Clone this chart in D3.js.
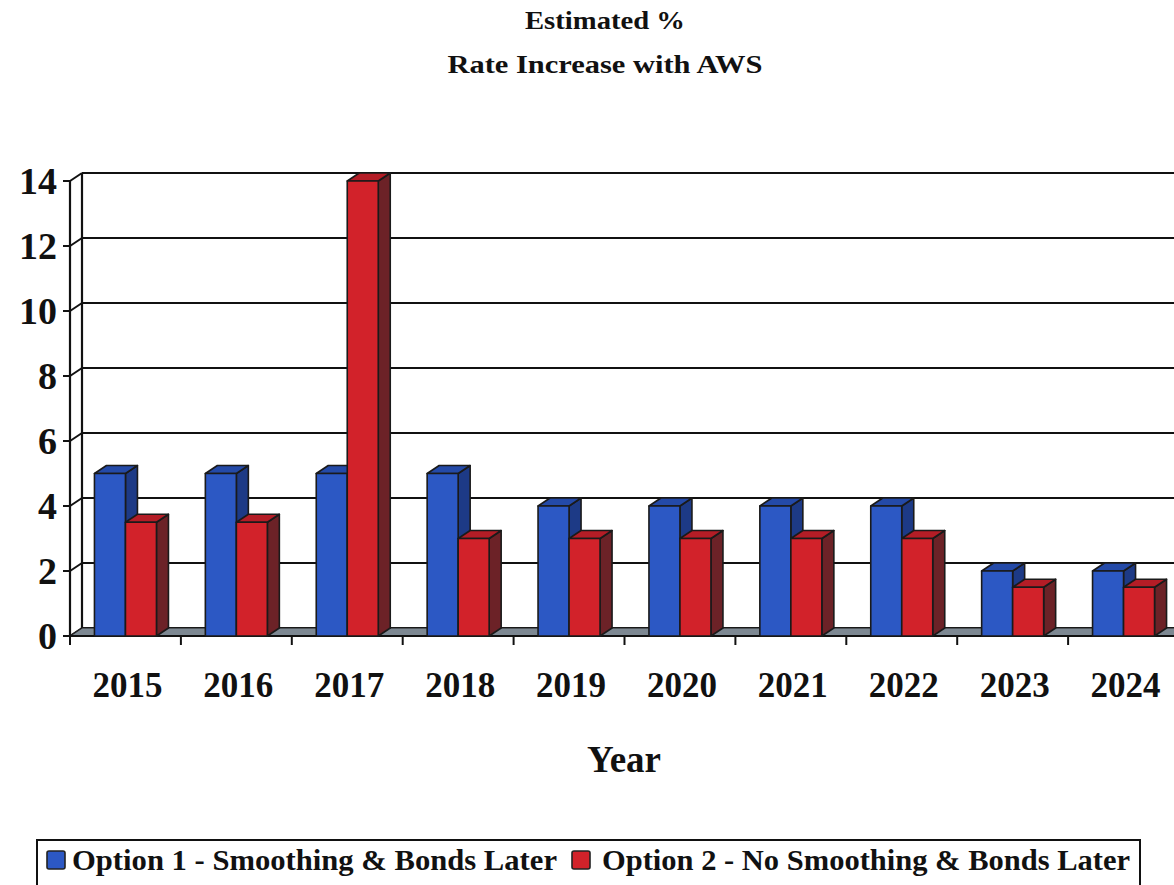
<!DOCTYPE html>
<html>
<head>
<meta charset="utf-8">
<script src="https://cdn.jsdelivr.net/npm/d3@7"></script>
<style>
  html, body { margin: 0; padding: 0; background: #fff; }
  svg { display: block; }
  text { font-family: "Liberation Serif", "DejaVu Serif", serif; font-weight: bold; fill: #111; }
</style>
</head>
<body>
<svg id="chart" width="1174" height="885"></svg>
<script>
// Chart data
const years = ["2015", "2016", "2017", "2018", "2019", "2020", "2021", "2022", "2023", "2024"];
const option1 = [5, 5, 5, 5, 4, 4, 4, 4, 2, 2];
const option2 = [3.5, 3.5, 14, 3, 3, 3, 3, 3, 1.5, 1.5];
const seriesNames = ["Option 1 - Smoothing & Bonds Later", "Option 2 - No Smoothing & Bonds Later"];
const yTicks = [0, 2, 4, 6, 8, 10, 12, 14];
const titleLines = ["Estimated %", "Rate Increase with AWS"];
const xTitle = "Year";

const W = 1174, H = 885;
const svg = d3.select("#chart");

// 3D depth offset for walls and bars
const DX = 12, DY = -8;

const x = d3.scaleBand().domain(years).range([70, 70 + 110.9 * years.length]).padding(0);
const y = d3.scaleLinear().domain([0, 14]).range([636, 181]);
const groupW = 62;
const inner = d3.scaleBand().domain([0, 1]).range([0, groupW]).padding(0);

const colors = [
  { front: "#2c58c4", top: "#244aa8", side: "#1d3a86" },
  { front: "#d2222a", top: "#b41d26", side: "#6c2227" }
];

const x0 = x.range()[0];
const plotRight = W + 20;

// Back wall gridlines
const g = svg.append("g");
g.selectAll("line.grid").data(yTicks).join("line")
  .attr("class", "grid")
  .attr("x1", x0 + DX).attr("x2", plotRight)
  .attr("y1", d => y(d) + DY).attr("y2", d => y(d) + DY)
  .attr("stroke", "#111").attr("stroke-width", 2.2);

// Left side wall: front and back verticals plus connectors at each tick
g.append("line").attr("x1", x0).attr("x2", x0).attr("y1", y(14)).attr("y2", y(0))
  .attr("stroke", "#111").attr("stroke-width", 2.2);
g.append("line").attr("x1", x0 + DX).attr("x2", x0 + DX).attr("y1", y(14) + DY).attr("y2", y(0) + DY)
  .attr("stroke", "#111").attr("stroke-width", 2.2);
g.selectAll("line.conn").data(yTicks).join("line")
  .attr("class", "conn")
  .attr("x1", x0).attr("x2", x0 + DX)
  .attr("y1", d => y(d)).attr("y2", d => y(d) + DY)
  .attr("stroke", "#111").attr("stroke-width", 2);

// Y ticks and labels
g.selectAll("line.ytick").data(yTicks).join("line")
  .attr("class", "ytick")
  .attr("x1", x0 - 7).attr("x2", x0)
  .attr("y1", d => y(d)).attr("y2", d => y(d))
  .attr("stroke", "#111").attr("stroke-width", 2);
g.selectAll("text.ylab").data(yTicks).join("text")
  .attr("class", "ylab")
  .attr("x", 57).attr("y", d => y(d) + 13)
  .attr("text-anchor", "end")
  .attr("font-size", 38)
  .text(d => d);

// Floor
const floorPts = [[x0, y(0)], [plotRight, y(0)], [plotRight + DX, y(0) + DY], [x0 + DX, y(0) + DY]];
g.append("polygon")
  .attr("points", floorPts.map(p => p.join(",")).join(" "))
  .attr("fill", "#7d8892").attr("stroke", "#222").attr("stroke-width", 1.2);
g.append("line").attr("x1", x0).attr("x2", plotRight).attr("y1", y(0)).attr("y2", y(0))
  .attr("stroke", "#111").attr("stroke-width", 2.2);

// X ticks at category boundaries
g.selectAll("line.xtick").data(years.slice(1)).join("line")
  .attr("class", "xtick")
  .attr("x1", d => x(d)).attr("x2", d => x(d))
  .attr("y1", y(0)).attr("y2", y(0) + 9)
  .attr("stroke", "#111").attr("stroke-width", 2);
g.append("line").attr("x1", x0).attr("x2", x0).attr("y1", y(0)).attr("y2", y(0) + 9)
  .attr("stroke", "#111").attr("stroke-width", 2);

// Bars (3D boxes), drawn left to right
const bars = [];
years.forEach((yr, i) => {
  [option1[i], option2[i]].forEach((v, s) => {
    const left = x(yr) + (x.bandwidth() - groupW) / 2 + inner(s);
    bars.push({ left, w: inner.bandwidth(), v, s });
  });
});
const barG = svg.append("g");
bars.forEach(b => {
  const xl = b.left, xr = b.left + b.w, yt = y(b.v), yb = y(0);
  const c = colors[b.s];
  const bg = barG.append("g").attr("stroke", "#1a1a1a").attr("stroke-width", 1.6).attr("stroke-linejoin", "round");
  // side face
  bg.append("polygon").attr("points", [[xr, yb], [xr + DX, yb + DY], [xr + DX, yt + DY], [xr, yt]].map(p => p.join(",")).join(" "))
    .attr("fill", c.side);
  // top face
  bg.append("polygon").attr("points", [[xl, yt], [xr, yt], [xr + DX, yt + DY], [xl + DX, yt + DY]].map(p => p.join(",")).join(" "))
    .attr("fill", c.top);
  // front face
  bg.append("rect").attr("x", xl).attr("y", yt).attr("width", b.w).attr("height", yb - yt)
    .attr("fill", c.front);
});

// X labels
svg.selectAll("text.xlab").data(years).join("text")
  .attr("class", "xlab")
  .attr("x", d => x(d) + x.bandwidth() / 2 + 2)
  .attr("y", 697)
  .attr("text-anchor", "middle")
  .attr("font-size", 35)
  .text(d => d);

// Axis title
svg.append("text").attr("x", 624).attr("y", 772).attr("text-anchor", "middle")
  .attr("font-size", 37).text(xTitle);

// Chart title (two centred lines, wide book face)
const titleWidths = [160, 315];
svg.selectAll("text.title").data(titleLines).join("text")
  .attr("class", "title")
  .attr("x", 605).attr("y", (d, i) => 29 + i * 44)
  .attr("text-anchor", "middle")
  .attr("font-size", 26)
  .attr("textLength", (d, i) => titleWidths[i])
  .attr("lengthAdjust", "spacingAndGlyphs")
  .text(d => d);

// Legend
const leg = svg.append("g");
leg.append("rect").attr("x", 37).attr("y", 840).attr("width", 1103).attr("height", 70)
  .attr("fill", "#fff").attr("stroke", "#111").attr("stroke-width", 2);
const legMarkX = [47, 572];
const legTextX = [72, 602];
const legTextW = [485, 528];
seriesNames.forEach((name, s) => {
  leg.append("rect").attr("x", legMarkX[s]).attr("y", 851).attr("width", 18).attr("height", 18)
    .attr("rx", 2).attr("fill", colors[s].front).attr("stroke", "#222").attr("stroke-width", 1.6);
  leg.append("text").attr("x", legTextX[s]).attr("y", 870).attr("font-size", 29)
    .attr("textLength", legTextW[s]).attr("lengthAdjust", "spacingAndGlyphs")
    .text(name);
});
</script>
</body>
</html>
